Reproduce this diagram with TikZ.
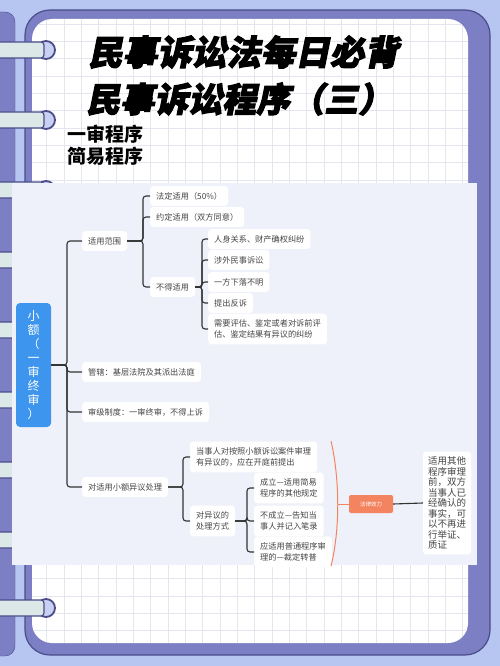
\documentclass[tikz,border=0pt]{standalone}
\usepackage{fontspec}
\newfontfamily\cjk{Noto Sans CJK SC}
\newfontfamily\titlefont[FakeSlant=0.2,FakeBold=3]{Noto Sans CJK SC}
\usepackage{xcolor}
\usetikzlibrary{positioning}

\definecolor{bgblue}{HTML}{B7C5F1}
\definecolor{framepurple}{HTML}{7C7FC3}
\definecolor{frameline}{HTML}{4A4D8A}
\definecolor{gridgray}{HTML}{E4E6EF}
\definecolor{panelgray}{HTML}{EFF1FA}
\definecolor{rootblue}{HTML}{3D95EE}
\definecolor{effectorange}{HTML}{F4845F}
\definecolor{ringmint}{HTML}{DCE8E8}
\definecolor{ringcap}{HTML}{C9D1F3}
\definecolor{textgray}{HTML}{454545}
\definecolor{linkgray}{HTML}{333333}

\begin{document}
\begin{tikzpicture}[x=1pt,y=-1pt,
    link/.style={draw=linkgray, line width=1.1pt, rounded corners=3pt},
    topic/.style={fill=white, rounded corners=3pt, inner xsep=6pt, inner ysep=6pt, anchor=west,
        text=textgray, font=\cjk\fontsize{8.2}{11}\selectfont, align=left},
    rootbox/.style={fill=rootblue, rounded corners=4pt, minimum width=35pt, minimum height=124pt,
        text=white, font=\cjk\fontsize{12}{14}\selectfont, align=center},
    bracket/.style={draw=effectorange, line width=1pt},
    effectbox/.style={fill=effectorange, rounded corners=2pt, minimum width=44pt, minimum height=18pt,
        text=white, font=\cjk\fontsize{5.5}{6}\selectfont},
    notebox/.style={fill=white, rounded corners=3pt, inner xsep=5pt, inner ysep=5pt,
        text=textgray, font=\cjk\fontsize{9.5}{10.5}\selectfont, align=left},
    gridline/.style={draw=gridgray, line width=0.6pt},
    ringbar/.style={fill=ringmint, draw=frameline, line width=1.2pt, rounded corners=3pt},
    ringend/.style={fill=ringcap, draw=frameline, line width=1.8pt}]

    % page and frame
    \useasboundingbox (0,0) rectangle (500,666);
    \fill[bgblue] (0,0) rectangle (500,666);
    \filldraw[fill=framepurple, draw=frameline, rounded corners=10pt] (-10,12) rectangle (15,656);
    \filldraw[fill=framepurple, draw=frameline, line width=1.2pt, rounded corners=25pt] (25,10) rectangle (490,655);
    \fill[white, rounded corners=20pt] (32,19) rectangle (468,643);
    \begin{scope}
        \clip[rounded corners=20pt] (32,19) rectangle (468,643);
        \foreach \gx in {0,...,25}
            \draw[gridline] ({29.4+17.33*\gx},19) -- ({29.4+17.33*\gx},643);
        \foreach \gy in {0,...,36}
            \draw[gridline] (32,{24+17.33*\gy}) -- (468,{24+17.33*\gy});
    \end{scope}

    % rings
    \foreach \ry in {50,120,190,260,330,400,470,540,608} {
        \filldraw[ringend] (46,\ry) circle (9);
        \filldraw[ringbar] (-5,{\ry-8}) rectangle (44,{\ry+8});
    }

    % titles
    \node[anchor=west, inner sep=0pt, font=\titlefont\bfseries\fontsize{34.5}{34.5}\selectfont] (title1) at (88,52) {民事诉讼法每日必背};
    \node[anchor=west, inner sep=0pt, font=\titlefont\bfseries\fontsize{34}{34}\selectfont] (title2) at (86,99) {民事诉讼程序（三）};
    \node[anchor=west, inner sep=0pt, font=\cjk\bfseries\fontsize{19}{19}\selectfont] (sub1) at (67,134) {一审程序};
    \node[anchor=west, inner sep=0pt, font=\cjk\bfseries\fontsize{19}{19}\selectfont] (sub2) at (67,156) {简易程序};

    % mind map
    \fill[panelgray] (12,183) rectangle (477,565);

    \node[rootbox] (root) at (33.5,365) {小\\额\\（\\一\\审\\终\\审\\）};

    \node[topic] (scope) at (82,241) {适用范围};
    \node[topic] (court) at (82,372) {管辖：基层法院及其派出法庭};
    \node[topic] (level) at (82,412) {审级制度：一审终审，不得上诉};
    \node[topic] (objection) at (82,487) {对适用小额异议处理};

    \node[topic] (legal) at (150,196) {法定适用（50\%）};
    \node[topic] (agreed) at (150,217) {约定适用（双方同意）};
    \node[topic] (excluded) at (150,287) {不得适用};

    \node[topic] (personal) at (208,239) {人身关系、财产确权纠纷};
    \node[topic] (foreign) at (208,260) {涉外民事诉讼};
    \node[topic] (missing) at (208,282) {一方下落不明};
    \node[topic] (counter) at (208,303) {提出反诉};
    \node[topic] (appraise) at (208,329) {需要评估、鉴定或者对诉前评\\估、鉴定结果有异议的纠纷};

    \node[topic] (timing) at (190,457) {当事人对按照小额诉讼案件审理\\有异议的，应在开庭前提出};
    \node[topic] (handling) at (190,521) {对异议的\\处理方式};

    \node[topic] (upheld) at (254,488) {成立—适用简易\\程序的其他规定};
    \node[topic] (rejected) at (254,521) {不成立—告知当\\事人并记入笔录};
    \node[topic] (transfer) at (254,552) {应适用普通程序审\\理的—裁定转普};

    \coordinate (rootfork) at (67,365);
    \coordinate (scopefork) at (143,241);
    \coordinate (exclfork) at (202,287);
    \coordinate (objfork) at (183,487);
    \coordinate (wayfork) at (247,521);

    \foreach \kid in {scope,court,level,objection}
        \draw[link] (root.east) -- (rootfork) |- (\kid.west);
    \foreach \kid in {legal,agreed,excluded}
        \draw[link] (scope.east) -- (scopefork) |- (\kid.west);
    \foreach \kid in {personal,foreign,missing,counter,appraise}
        \draw[link] (excluded.east) -- (exclfork) |- (\kid.west);
    \foreach \kid in {timing,handling}
        \draw[link] (objection.east) -- (objfork) |- (\kid.west);
    \foreach \kid in {upheld,rejected,transfer}
        \draw[link] (handling.east) -- (wayfork) |- (\kid.west);

    % legal effect
    \draw[bracket] (331,441) .. controls (340,480) and (340,530) .. (331,566);
    \coordinate (bracketmid) at (338,504);
    \node[effectbox] (effect) at (371,504) {法律效力};
    \draw[bracket] (bracketmid) -- (effect.west);
    \node[notebox] (fact) at (447,503) {适用其他\\程序审理\\前，双方\\当事人已\\经确认的\\事实，可\\以不再进\\行举证、\\质证};
    \draw[link] (effect.east) -- (fact.west);
\end{tikzpicture}
\end{document}
